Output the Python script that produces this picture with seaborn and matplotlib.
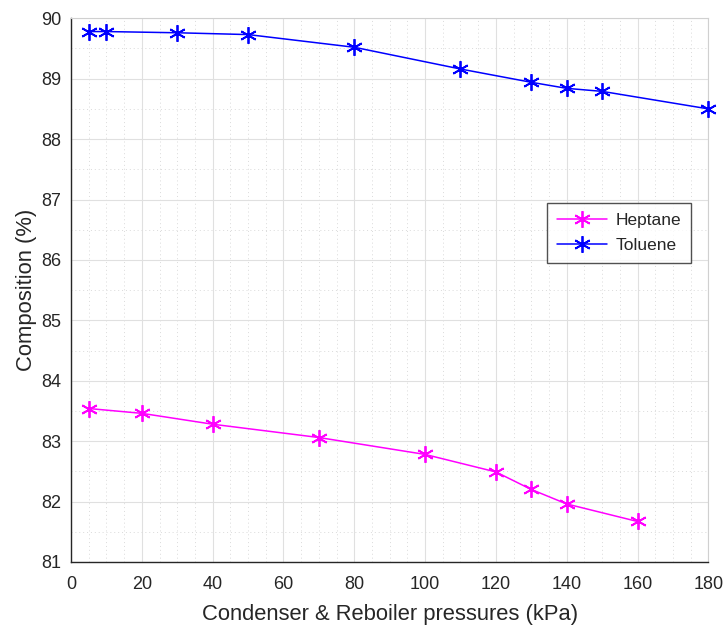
import numpy as np
import pandas as pd
import matplotlib
matplotlib.use("Agg")
import matplotlib.pyplot as plt
import seaborn as sns
from matplotlib.ticker import MultipleLocator

heptane_p = [5, 20, 40, 70, 100, 120, 130, 140, 160]
heptane_c = [83.54, 83.46, 83.28, 83.06, 82.78, 82.49, 82.20, 81.96, 81.67]
toluene_p = [5, 10, 30, 50, 80, 110, 130, 140, 150, 180]
toluene_c = [89.78, 89.78, 89.76, 89.73, 89.52, 89.16, 88.94, 88.84, 88.79, 88.50]
series_names = ["Heptane", "Toluene"]
x_ticks = list(range(0, 181, 20))
y_ticks = list(range(81, 91))

df = pd.concat([
    pd.DataFrame({"p": heptane_p, "c": heptane_c, "s": series_names[0]}),
    pd.DataFrame({"p": toluene_p, "c": toluene_c, "s": series_names[1]}),
])

sns.set_style("white")
plt.rcParams["font.family"] = ["Liberation Sans", "DejaVu Sans"]

fig = plt.figure(figsize=(7.25, 6.3), dpi=100)
ax = fig.add_axes([0.098, 0.108, 0.879, 0.863])

sns.lineplot(data=df, x="p", y="c", hue="s", hue_order=series_names,
             palette={"Heptane": "#ff00ff", "Toluene": "#0000ff"},
             linewidth=1.1, ax=ax, sort=False, legend=False)

for line in ax.lines:
    line.set_marker((6, 2, 0))
    line.set_markersize(12)
    line.set_markeredgewidth(1.3)
    line.set_markeredgecolor(line.get_color())
    line.set_markerfacecolor(line.get_color())
    line.set_clip_on(False)
    line.set_zorder(5)

ax.set_xlim(0, 180)
ax.set_ylim(81, 90)
ax.set_xticks(x_ticks)
ax.set_yticks(y_ticks)
ax.xaxis.set_minor_locator(MultipleLocator(5))
ax.yaxis.set_minor_locator(MultipleLocator(0.5))
ax.grid(True, which="major", color="#e0e0e0", linewidth=0.8, linestyle="-")
ax.grid(True, which="minor", color="#dadada", linewidth=0.7, linestyle=(0, (1, 3)))
ax.set_axisbelow(True)

for side in ["left", "bottom"]:
    ax.spines[side].set_color("#262626")
    ax.spines[side].set_linewidth(1.0)
for side in ["top", "right"]:
    ax.spines[side].set_color("#d0d0d0")
    ax.spines[side].set_linewidth(0.8)

ax.tick_params(axis="both", which="major", direction="in", length=5, width=1,
               colors="#262626", labelsize=13)
ax.tick_params(axis="x", which="major", pad=10)
ax.tick_params(axis="y", which="major", pad=7)
ax.tick_params(axis="both", which="minor", length=0)

ax.set_xlabel("Condenser & Reboiler pressures (kPa)", fontsize=15.8, color="#262626", labelpad=8)
ax.set_ylabel("Composition (%)", fontsize=15.8, color="#262626", labelpad=3)

leg = ax.legend(ax.lines, series_names, loc="upper left", bbox_to_anchor=(0.747, 0.66),
                borderaxespad=0, fontsize=12.5,
                frameon=True, fancybox=False, edgecolor="#262626",
                handlelength=2.9, borderpad=0.55, labelspacing=0.6, handletextpad=0.5)
leg.get_frame().set_linewidth(1.0)

fig.savefig("out.png", dpi=100)
